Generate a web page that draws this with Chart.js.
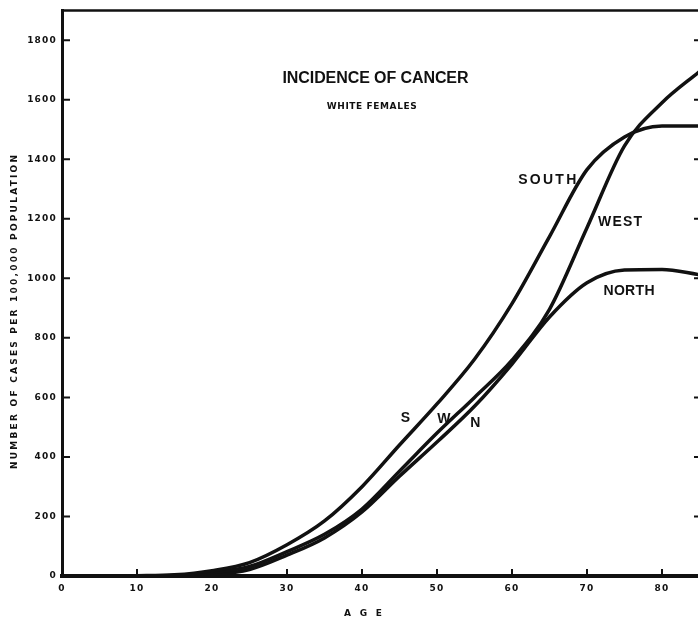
<!DOCTYPE html>
<html>
<head>
<meta charset="utf-8">
<script src="https://cdn.jsdelivr.net/npm/chart.js@4"></script>
<style>
  html, body { margin: 0; padding: 0; background: #fff; overflow: hidden; }
  #wrap { width: 698px; height: 621px; position: relative; }
</style>
</head>
<body>
<div id="wrap"><canvas id="cancerChart"></canvas></div>
<script>
// incidence per 100,000 by age
var ages  = [0, 5, 10, 15, 20, 25, 30, 35, 40, 45, 50, 55, 60, 65, 70, 75, 80, 85];
var south = [0, 0, 1, 4, 18, 45, 105, 185, 300, 440, 578, 728, 915, 1140, 1365, 1475, 1512, 1512];
var west  = [0, 0, 0, 2, 12, 32, 82, 140, 225, 352, 480, 600, 725, 896, 1170, 1445, 1590, 1695];
var north = [0, 0, 0, 1, 5, 22, 70, 128, 215, 335, 450, 570, 712, 870, 985, 1028, 1030, 1012];

var xTicks = [0, 10, 20, 30, 40, 50, 60, 70, 80];
var yTicks = [0, 200, 400, 600, 800, 1000, 1200, 1400, 1600, 1800];

function pts(vals) {
    return ages.map(function(a, i) { return { x: a, y: vals[i] }; });
}

function fitText(ctx, text, cx, cy, font, width) {
    ctx.font = font;
    ctx.letterSpacing = '0px';
    var w = ctx.measureText(text).width;
    var sp = (width - w) / (text.length - 1);
    ctx.letterSpacing = sp + 'px';
    ctx.textAlign = 'left';
    ctx.textBaseline = 'middle';
    ctx.fillText(text, cx - width / 2, cy);
    ctx.letterSpacing = '0px';
}

var plateBits = {
    id: 'plateBits',
    beforeDraw: function(chart) {
        chart.ctx.letterSpacing = '1.2px';
    },
    afterDraw: function(chart) {
        var ctx = chart.ctx, a = chart.chartArea;
        var xs = chart.scales.x, ys = chart.scales.y;
        ctx.save();
        ctx.strokeStyle = '#111';
        ctx.fillStyle = '#111';
        ctx.lineCap = 'butt';

        // frame top
        ctx.lineWidth = 2.5;
        ctx.beginPath();
        ctx.moveTo(a.left, a.top);
        ctx.lineTo(a.right, a.top);
        ctx.stroke();

        // inward ticks
        ctx.lineWidth = 2;
        yTicks.forEach(function(v) {
            if (!v) return;
            var p = ys.getPixelForValue(v);
            ctx.beginPath();
            ctx.moveTo(a.left, p); ctx.lineTo(a.left + 8, p);
            ctx.moveTo(a.right - 4, p); ctx.lineTo(a.right, p);
            ctx.stroke();
        });
        xTicks.forEach(function(v) {
            if (!v) return;
            var p = xs.getPixelForValue(v);
            ctx.beginPath();
            ctx.moveTo(p, a.bottom); ctx.lineTo(p, a.bottom - 7);
            ctx.stroke();
        });

        // titles
        function at(age, val) { return [xs.getPixelForValue(age), ys.getPixelForValue(val)]; }
        var p = at(41.8, 1670);
        fitText(ctx, 'INCIDENCE OF CANCER', p[0], p[1], 'bold 16px "Liberation Sans"', 186);
        p = at(41.3, 1578);
        fitText(ctx, 'WHITE FEMALES', p[0], p[1], 'bold 9px "DejaVu Sans"', 90);

        // curve labels
        p = at(64.7, 1330); fitText(ctx, 'SOUTH', p[0], p[1], 'bold 14px "Liberation Sans"', 58);
        p = at(74.4, 1190); fitText(ctx, 'WEST', p[0], p[1], 'bold 14px "Liberation Sans"', 44);
        p = at(75.6, 957);  fitText(ctx, 'NORTH', p[0], p[1], 'bold 14px "Liberation Sans"', 51);
        ctx.font = 'bold 14px "Liberation Sans"';
        ctx.textAlign = 'center';
        ctx.textBaseline = 'middle';
        p = at(45.8, 530); ctx.fillText('S', p[0], p[1]);
        p = at(50.9, 527); ctx.fillText('W', p[0], p[1]);
        p = at(55.1, 512); ctx.fillText('N', p[0], p[1]);

        // axis titles
        fitText(ctx, 'A G E', (a.left + a.right) / 2 - 17, 614, 'bold 9px "DejaVu Sans"', 38);
        ctx.save();
        ctx.translate(15, 312);
        ctx.rotate(-Math.PI / 2);
        fitText(ctx, 'NUMBER OF CASES PER 100,000 POPULATION', 0, 0, 'bold 9px "DejaVu Sans"', 314);
        ctx.restore();

        ctx.restore();
    }
};

document.addEventListener('DOMContentLoaded', function() {
    var ctx = document.getElementById('cancerChart').getContext('2d');
    var lineStyle = {
        borderColor: '#111',
        borderWidth: 3.5,
        pointRadius: 0,
        fill: false,
        cubicInterpolationMode: 'monotone'
    };
    var cancerChart = new Chart(ctx, {
        type: 'line',
        data: {
            datasets: [
                Object.assign({ label: 'South', data: pts(south) }, lineStyle),
                Object.assign({ label: 'West', data: pts(west) }, lineStyle),
                Object.assign({ label: 'North', data: pts(north) }, lineStyle)
            ]
        },
        options: {
            responsive: true,
            maintainAspectRatio: false,
            animation: false,
            layout: { padding: { top: 7, right: 0, left: 0, bottom: 0 } },
            plugins: {
                legend: { display: false },
                tooltip: { enabled: false }
            },
            scales: {
                x: {
                    type: 'linear',
                    min: 0,
                    max: 84.8,
                    afterBuildTicks: function(s) { s.ticks = xTicks.map(function(v) { return { value: v }; }); },
                    afterFit: function(s) { s.height = 45; },
                    grid: { display: false, drawTicks: false },
                    border: { display: true, color: '#111', width: 4 },
                    ticks: {
                        color: '#111',
                        padding: 7,
                        maxRotation: 0,
                        callback: function(v) { return String(v); },
                        font: { family: 'DejaVu Sans', size: 9, weight: 'bold' }
                    }
                },
                y: {
                    min: 0,
                    max: 1900,
                    afterBuildTicks: function(s) { s.ticks = yTicks.map(function(v) { return { value: v }; }); },
                    afterFit: function(s) { s.width = 62; },
                    grid: { display: false, drawTicks: false },
                    border: { display: true, color: '#111', width: 3 },
                    ticks: {
                        color: '#111',
                        padding: 5,
                        callback: function(v) { return String(v); },
                        font: { family: 'DejaVu Sans', size: 9, weight: 'bold' }
                    }
                }
            }
        },
        plugins: [plateBits]
    });
});
</script>
</body>
</html>
